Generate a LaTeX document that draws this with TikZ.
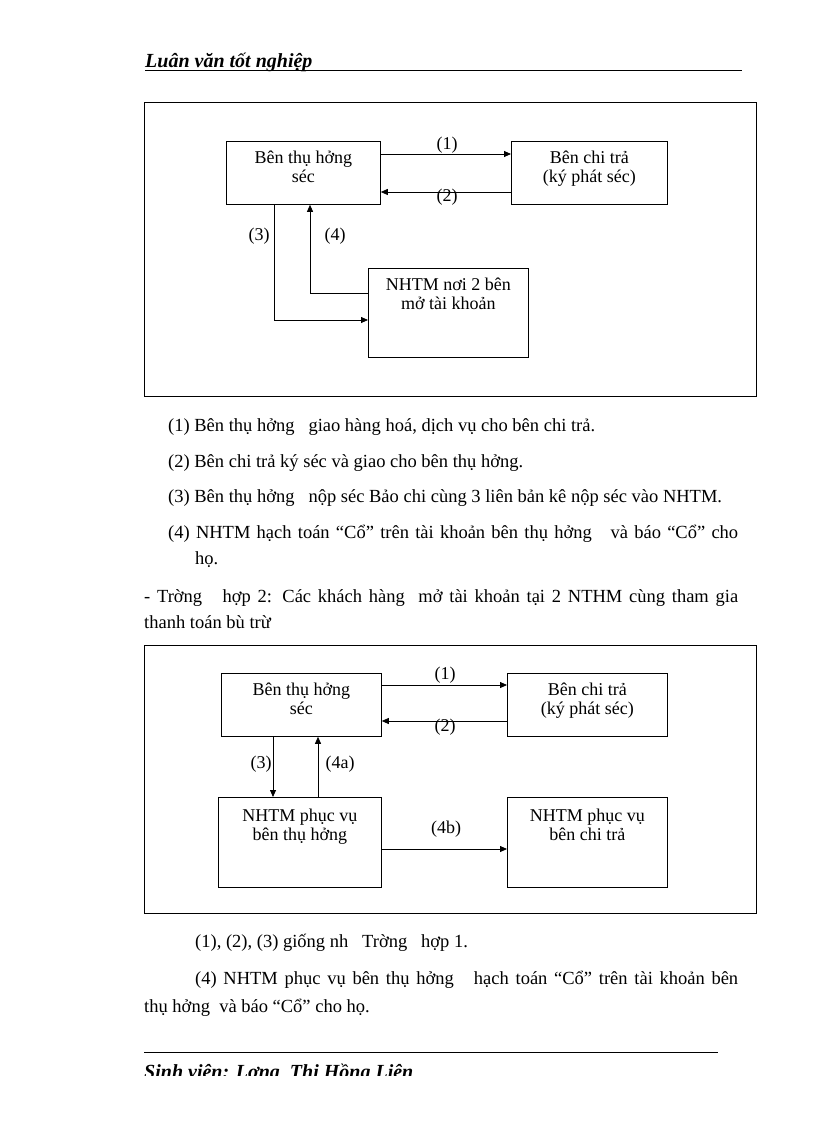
\documentclass[tikz,border=0pt]{standalone}
\usepackage{fontspec}
\setmainfont{Liberation Serif}
\usetikzlibrary{arrows.meta}
\begin{document}
\begin{tikzpicture}[x=1pt,y=-1pt,
  box/.style={draw,line width=0.8pt,inner sep=0,anchor=north west},
  frame/.style={draw,line width=1pt},
  flow/.style={line width=0.8pt,-{Triangle[length=7pt,width=6pt]}},
  boxtext/.style={font=\fontsize{18}{18.5}\selectfont,align=center,anchor=north,inner sep=0},
  lbl/.style={font=\fontsize{18}{19}\selectfont,inner sep=0},
  body/.style={font=\fontsize{18.5}{20}\selectfont,anchor=base west,inner sep=0},
  script/.style={font=\fontsize{20}{22}\selectfont\bfseries\itshape,anchor=base west,inner sep=0},
]
\useasboundingbox[fill=white] (0,0) rectangle (816,1123);

% header
\node[script] (hdr) at (145,68) {Luân văn tốt nghiệp};
\coordinate (hl) at (145,70);
\coordinate (hr) at (742,70);
\draw[line width=0.8pt] (hl) -- (hr);

% ---------- diagram 1 ----------
\node[frame,minimum width=612,minimum height=294,anchor=north west,inner sep=0] (F1) at (144,102) {};
\node[box,minimum width=154,minimum height=63] (A) at (226,141) {};
\node[box,minimum width=156,minimum height=63] (B) at (511,141) {};
\node[box,minimum width=160,minimum height=89] (C) at (368,268) {};
\node[boxtext] (At) at ([yshift=-10]A.north) {Bên thụ hởng\\séc};
\node[boxtext] (Bt) at ([yshift=-10]B.north) {Bên chi trả\\(ký phát séc)};
\node[boxtext] (Ct) at ([yshift=-10]C.north) {NHTM nơi 2 bên\\mở tài khoản};

\draw[flow] (A.east |- 0,154) -- (B.west |- 0,154);
\draw[flow] (B.west |- 0,192) -- (A.east |- 0,192);
\draw[flow] (A.south -| 274,0) |- (C.west |- 0,320);
\draw[flow] (C.west |- 0,293) -| (A.south -| 310,0);
\node[lbl] (l1) at (447,145) {(1)};
\node[lbl] (l2) at (447,197) {(2)};
\node[lbl] (l3) at (259,236) {(3)};
\node[lbl] (l4) at (335,236) {(4)};

% ---------- text 1 ----------
\node[body] (t1) at (168,431) {(1) Bên thụ hởng \ \ giao hàng hoá, dịch vụ cho bên chi trả.};
\node[body] (t2) at (168,467) {(2) Bên chi trả ký séc và giao cho bên thụ hởng.};
\node[body] (t3) at (168,502) {(3) Bên thụ hởng \ \ nộp séc Bảo chi cùng 3 liên bản kê nộp séc vào NHTM.};
\node[body] (t4) at (168,538) {\makebox[570pt][s]{(4) NHTM hạch toán “Cổ” trên tài khoản bên thụ hởng \ \ và báo “Cổ” cho}};
\node[body] (t4b) at (195,564) {họ.};
\node[body] (t5) at (144,602) {\makebox[594pt][s]{- Trờng \ \ hợp 2: Các khách hàng \ mở tài khoản tại 2 NTHM cùng tham gia}};
\node[body] (t6) at (144,628) {thanh toán bù trừ};

% ---------- diagram 2 ----------
\node[frame,minimum width=612,minimum height=268,anchor=north west,inner sep=0] (F2) at (144,645) {};
\node[box,minimum width=160,minimum height=63] (A2) at (221,673) {};
\node[box,minimum width=160,minimum height=63] (B2) at (507,673) {};
\node[box,minimum width=163,minimum height=90] (C2) at (218,797) {};
\node[box,minimum width=160,minimum height=90] (D2) at (507,797) {};
\node[boxtext] (A2t) at ([yshift=-10]A2.north) {Bên thụ hởng\\séc};
\node[boxtext] (B2t) at ([yshift=-10]B2.north) {Bên chi trả\\(ký phát séc)};
\node[boxtext] (C2t) at ([yshift=-12]C2.north) {NHTM phục vụ\\bên thụ hởng};
\node[boxtext] (D2t) at ([yshift=-12]D2.north) {NHTM phục vụ\\bên chi trả};

\draw[flow] (A2.east |- 0,685) -- (B2.west |- 0,685);
\draw[flow] (B2.west |- 0,721) -- (A2.east |- 0,721);
\draw[flow] (A2.south -| 273,0) -- (C2.north -| 273,0);
\draw[flow] (C2.north -| 318,0) -- (A2.south -| 318,0);
\draw[flow] (C2.east |- 0,849) -- (D2.west |- 0,849);
\node[lbl] (m1) at (445,675) {(1)};
\node[lbl] (m2) at (445,727) {(2)};
\node[lbl] (m3) at (261,764) {(3)};
\node[lbl] (m4) at (340,764) {(4a)};
\node[lbl] (m5) at (446,829) {(4b)};

% ---------- text 2 ----------
\node[body] (u1) at (195,947) {(1), (2), (3) giống nh \ \ Trờng \ \ hợp 1.};
\node[body] (u2) at (195,984) {\makebox[543pt][s]{(4) NHTM phục vụ bên thụ hởng \ \ hạch toán “Cổ” trên tài khoản bên}};
\node[body] (u3) at (144,1012) {thụ hởng \ và báo “Cổ” cho họ.};

% footer
\coordinate (fl) at (144,1052);
\coordinate (fr) at (718,1052);
\draw[line width=0.8pt] (fl) -- (fr);
\begin{scope}
\clip (0,1050) rectangle (816,1075);
\node[script] (ftr) at (144,1078) {Sinh viên: Lơng \ Thị Hồng Liên};
\end{scope}
\end{tikzpicture}
\end{document}
